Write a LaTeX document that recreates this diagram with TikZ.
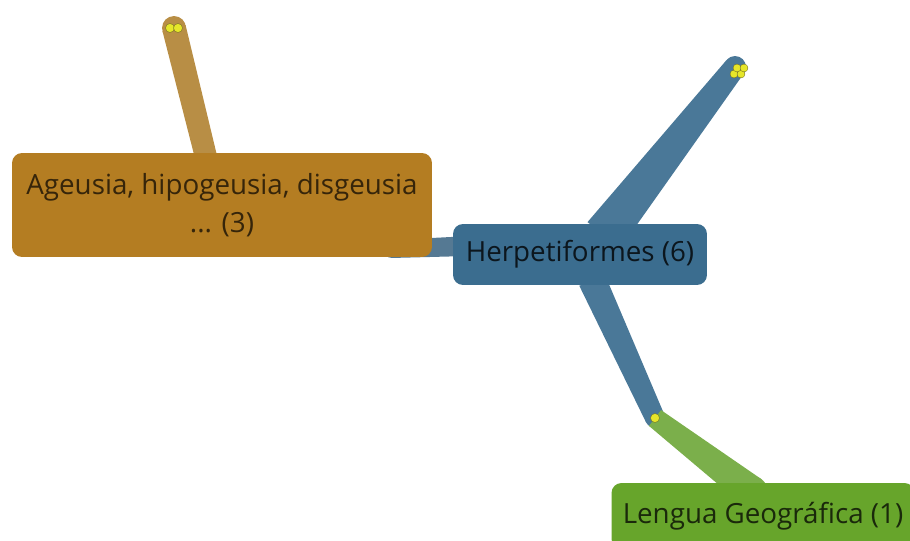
\documentclass[tikz,border=0pt]{standalone}
\usepackage{fontspec}
\setmainfont{Open Sans}
\usepackage{tikz}
\usetikzlibrary{calc,positioning}
\definecolor{ageucol}{HTML}{B47D22}
\definecolor{ageubranch}{HTML}{B88E45}
\definecolor{herpcol}{HTML}{3B6D8F}
\definecolor{herpbranch}{HTML}{4A7898}
\definecolor{lenguacol}{HTML}{67A52B}
\definecolor{lenguabranch}{HTML}{7BAF4B}
\definecolor{tipyellow}{HTML}{E6E62A}
% tapered branch: colour, from, to, half width at from, half width at to
\newcommand{\branch}[5]{%
  \fill[#1] ($(#2)!#4!90:(#3)$) -- ($(#3)!#5!-90:(#2)$) -- ($(#3)!#5!90:(#2)$)
    -- ($(#2)!#4!-90:(#3)$) -- cycle;
  \fill[#1] (#3) circle[radius=#5];}
\begin{document}
\begin{tikzpicture}[x=0.02cm,y=-0.02cm,
                    topic/.style={rectangle,rounded corners=0.2cm,align=center,
                                  font=\fontsize{15.8}{21.5}\selectfont,inner sep=0pt},
                    tip/.style={fill=tipyellow,draw=olive!70!black,line width=0.2pt}]
  \useasboundingbox (0,0) rectangle (910,541);
  % anchor points of the branches
  \coordinate (upbase) at (604,235);
  \coordinate (uptip) at (735,67);
  \coordinate (downbase) at (592,280);
  \coordinate (fork) at (655,418);
  \coordinate (lenguatop) at (752,492);
  \coordinate (leftbase) at (470,246);
  \coordinate (leftend) at (392,249);
  \coordinate (ageubase) at (208,165);
  \coordinate (ageutip) at (174,28);
  % branches
  \branch{herpbranch}{upbase}{uptip}{21*0.567pt}{11*0.567pt}
  \branch{herpbranch}{downbase}{fork}{14*0.567pt}{10*0.567pt}
  \branch{lenguabranch}{fork}{lenguatop}{10*0.567pt}{16*0.567pt}
  \branch{herpbranch!80!gray}{leftbase}{leftend}{10*0.567pt}{9*0.567pt}
  \branch{ageubranch}{ageubase}{ageutip}{11*0.567pt}{12*0.567pt}
  % topics
  \node[topic,fill=ageucol,text=ageucol!30!black,minimum width=8.4cm,minimum height=2.08cm]
    (ageusia) at (222,205) {Ageusia, hipogeusia, disgeusia\\... (3)};
  \node[topic,fill=herpcol,text=herpcol!20!black,minimum width=5.08cm,minimum height=1.22cm]
    (herpet) at (580,254.5) {Herpetiformes (6)};
  \node[topic,fill=lenguacol,text=lenguacol!25!black,minimum width=6.06cm,minimum height=1.32cm]
    (lengua) at (763,516) {Lengua Geográfica (1)};
  % tips
  \fill[tip] ($(ageutip)+(-4,0)$) circle[radius=4.5*0.567pt];
  \fill[tip] ($(ageutip)+(4,0)$) circle[radius=4.5*0.567pt];
  \fill[tip] ($(uptip)+(-1,7)$) circle[radius=4*0.567pt];
  \fill[tip] ($(uptip)+(6,7)$) circle[radius=4*0.567pt];
  \fill[tip] ($(uptip)+(2,1)$) circle[radius=4*0.567pt];
  \fill[tip] ($(uptip)+(9,1)$) circle[radius=4*0.567pt];
  \fill[tip] (fork) circle[radius=4.5*0.567pt];
\end{tikzpicture}
\end{document}
